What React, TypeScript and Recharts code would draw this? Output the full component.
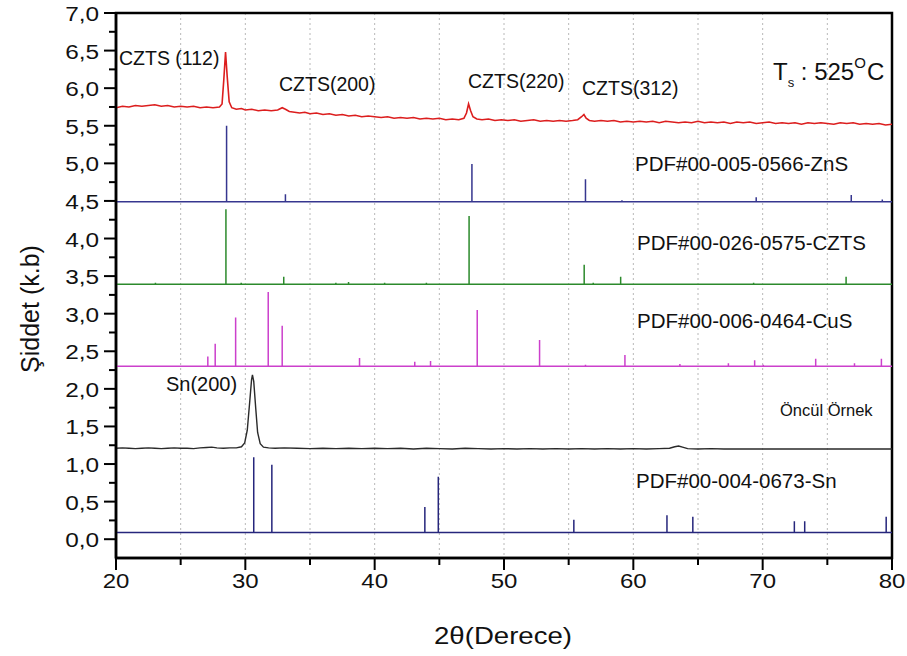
import React from "react";
import {
  CartesianGrid,
  ComposedChart,
  Line,
  ReferenceArea,
  XAxis,
  YAxis
} from "recharts";

type Pt = [number, number];

const xTicks = [20, 25, 30, 35, 40, 45, 50, 55, 60, 65, 70, 75, 80];
const yTicks = [
  0, 0.25, 0.5, 0.75, 1, 1.25, 1.5, 1.75, 2, 2.25, 2.5, 2.75, 3, 3.25, 3.5,
  3.75, 4, 4.25, 4.5, 4.75, 5, 5.25, 5.5, 5.75, 6, 6.25, 6.5, 6.75, 7
];

// film annealed at 525 C (red scan)
const sampleScan: Pt[] = [
  [20, 5.74], [20.5, 5.76], [21, 5.75], [21.5, 5.77], [22, 5.76], [22.5, 5.77],
  [23, 5.78], [23.5, 5.76], [24, 5.77], [24.5, 5.75], [25, 5.76], [25.5, 5.75],
  [26, 5.76], [26.5, 5.74], [27, 5.75], [27.5, 5.74], [28, 5.75], [28.2, 5.79],
  [28.33, 6.1], [28.47, 6.48], [28.6, 6.15], [28.75, 5.82], [28.95, 5.74],
  [29.3, 5.72], [29.7, 5.73], [30, 5.71], [30.5, 5.72], [31, 5.7], [31.5, 5.71],
  [32, 5.7], [32.5, 5.71], [32.85, 5.74], [33.1, 5.72], [33.4, 5.69], [33.8, 5.68],
  [34.2, 5.67], [34.6, 5.68], [35, 5.66], [35.5, 5.67], [36, 5.65], [36.5, 5.66],
  [37, 5.64], [37.5, 5.65], [38, 5.63], [38.5, 5.64], [39, 5.62], [39.5, 5.63],
  [40, 5.62], [40.5, 5.61], [41, 5.62], [41.5, 5.6], [42, 5.61], [42.5, 5.6],
  [43, 5.61], [43.5, 5.59], [44, 5.6], [44.5, 5.59], [45, 5.6], [45.5, 5.58],
  [46, 5.59], [46.5, 5.58], [46.9, 5.6], [47.1, 5.67], [47.26, 5.79], [47.42, 5.7],
  [47.6, 5.62], [47.9, 5.59], [48.3, 5.58], [48.8, 5.59], [49.3, 5.57], [49.8, 5.58],
  [50.3, 5.57], [50.8, 5.58], [51.3, 5.56], [51.8, 5.57], [52.3, 5.58], [52.8, 5.56],
  [53.3, 5.57], [53.8, 5.56], [54.3, 5.57], [54.8, 5.56], [55.3, 5.57], [55.7, 5.58],
  [56.0, 5.62], [56.18, 5.65], [56.35, 5.6], [56.6, 5.57], [57, 5.56], [57.5, 5.57],
  [58, 5.56], [58.5, 5.57], [59, 5.55], [59.5, 5.56], [60, 5.55], [60.5, 5.56],
  [61, 5.55], [61.5, 5.56], [62, 5.54], [62.5, 5.56], [63, 5.55], [63.5, 5.54],
  [64, 5.55], [64.5, 5.54], [65, 5.56], [65.5, 5.54], [66, 5.55], [66.5, 5.54],
  [67, 5.55], [67.5, 5.53], [68, 5.55], [68.5, 5.54], [69, 5.55], [69.5, 5.53],
  [70, 5.54], [70.5, 5.55], [71, 5.53], [71.5, 5.54], [72, 5.53], [72.5, 5.54],
  [73, 5.52], [73.5, 5.54], [74, 5.53], [74.5, 5.54], [75, 5.53], [75.5, 5.52],
  [76, 5.54], [76.5, 5.53], [77, 5.54], [77.5, 5.52], [78, 5.53], [78.5, 5.52],
  [79, 5.53], [79.5, 5.51], [80, 5.52]
];

// precursor (black scan)
const precursorScan: Pt[] = [
  [20, 1.21], [20.5, 1.215], [21, 1.21], [21.5, 1.205], [22, 1.21], [22.5, 1.215],
  [23, 1.21], [23.5, 1.205], [24, 1.21], [24.5, 1.215], [25, 1.21], [25.5, 1.21],
  [26, 1.205], [26.5, 1.215], [27, 1.22], [27.4, 1.225], [27.8, 1.215], [28.3, 1.21],
  [28.8, 1.215], [29.3, 1.215], [29.7, 1.23], [29.95, 1.28], [30.15, 1.45],
  [30.35, 1.85], [30.48, 2.12], [30.55, 2.185], [30.65, 2.1], [30.8, 1.75],
  [30.95, 1.42], [31.15, 1.27], [31.4, 1.225], [31.8, 1.215], [32.3, 1.21],
  [33, 1.215], [34, 1.21], [35, 1.205], [36, 1.21], [37, 1.205], [38, 1.21],
  [39, 1.205], [40, 1.21], [41, 1.205], [42, 1.21], [43, 1.2], [44, 1.21],
  [45, 1.205], [46, 1.2], [47, 1.21], [48, 1.205], [49, 1.2], [50, 1.205],
  [51, 1.2], [52, 1.205], [53, 1.2], [54, 1.205], [55, 1.2], [56, 1.205],
  [57, 1.2], [58, 1.205], [59, 1.2], [60, 1.205], [61, 1.2], [62, 1.205],
  [62.8, 1.21], [63.2, 1.23], [63.5, 1.24], [63.8, 1.225], [64.2, 1.205],
  [65, 1.2], [66, 1.205], [67, 1.2], [68, 1.2], [70, 1.2], [72, 1.2], [74, 1.2],
  [76, 1.2], [78, 1.2], [80, 1.2]
];

// reference patterns: [2theta, top of stick]
const znsBase = 4.49;
const znsPeaks: Pt[] = [
  [28.55, 5.5], [33.1, 4.59], [47.52, 4.99], [56.3, 4.79], [59.12, 4.51],
  [69.5, 4.55], [76.85, 4.58], [79.25, 4.52]
];

const cztsBase = 3.39;
const cztsPeaks: Pt[] = [
  [23.05, 3.41], [28.5, 4.39], [29.68, 3.41], [32.97, 3.49], [37.0, 3.41],
  [37.98, 3.42], [40.77, 3.41], [44.0, 3.41], [47.3, 4.3], [56.2, 3.65],
  [56.9, 3.41], [59.02, 3.49], [69.3, 3.41], [76.45, 3.49]
];

const cusBase = 2.3;
const cusPeaks: Pt[] = [
  [27.1, 2.43], [27.67, 2.6], [29.25, 2.95], [31.77, 3.29], [32.85, 2.84],
  [38.83, 2.41], [43.1, 2.36], [44.32, 2.37], [47.93, 3.05], [52.75, 2.65],
  [56.3, 2.32], [59.35, 2.45], [63.6, 2.33], [67.35, 2.34], [69.38, 2.38],
  [70.05, 2.32], [74.1, 2.4], [77.1, 2.34], [79.18, 2.4]
];

const snBase = 0.09;
const snPeaks: Pt[] = [
  [30.65, 1.09], [32.05, 0.99], [43.88, 0.43], [44.92, 0.83], [55.4, 0.26],
  [62.6, 0.32], [64.6, 0.3], [72.45, 0.24], [73.25, 0.24], [79.55, 0.3]
];

const toRows = (pts: Pt[]) => pts.map(([x, y]) => ({ x, y }));

const stickRows = (base: number, peaks: Pt[]) => {
  const rows = [{ x: 20, y: base }];
  peaks.forEach(([x, top]) => {
    rows.push({ x, y: base }, { x, y: top }, { x, y: base });
  });
  rows.push({ x: 80, y: base });
  return rows;
};

const FONT = "'Liberation Sans', Arial, sans-serif";

const XTick = (props: any) => {
  const { x, y, payload } = props;
  const major = payload.value % 10 === 0;
  return (
    <g>
      <line x1={x} x2={x} y1={y} y2={y + (major ? 12 : 7)} stroke="#000" strokeWidth={2} />
      {major && (
        <text
          transform={`translate(${x},${y + 30}) scale(1.2,1)`}
          textAnchor="middle"
          fontSize={20}
          fontFamily={FONT}
          fill="#111"
        >
          {payload.value}
        </text>
      )}
    </g>
  );
};

const YTick = (props: any) => {
  const { x, y, payload } = props;
  const v = payload.value as number;
  const major = Math.abs(v * 2 - Math.round(v * 2)) < 1e-6;
  return (
    <g>
      <line x1={x} x2={x - (major ? 12 : 7)} y1={y} y2={y} stroke="#000" strokeWidth={2} />
      {major && (
        <text
          transform={`translate(${x - 17},${y + 8}) scale(1.25,1)`}
          textAnchor="end"
          fontSize={19.5}
          fontFamily={FONT}
          fill="#111"
        >
          {v.toFixed(1).replace(".", ",")}
        </text>
      )}
    </g>
  );
};

export default function App() {
  return (
    <div style={{ position: "absolute", left: 0, top: 0, width: 907, height: 656, background: "#fff" }}>
      <ComposedChart
        width={907}
        height={656}
        margin={{ top: 13, right: 15, bottom: 38, left: 46 }}
      >
        <CartesianGrid horizontal={false} stroke="#b8b8b8" strokeDasharray="2 3" />
        <XAxis
          type="number"
          dataKey="x"
          domain={[20, 80]}
          ticks={xTicks}
          allowDataOverflow
          height={60}
          tickSize={0}
          tickMargin={0}
          tickLine={false}
          axisLine={{ stroke: "#000", strokeWidth: 2.5 }}
          tick={<XTick />}
        />
        <YAxis
          type="number"
          domain={[-0.25, 7]}
          ticks={yTicks}
          allowDataOverflow
          width={70}
          tickSize={0}
          tickMargin={0}
          tickLine={false}
          axisLine={{ stroke: "#000", strokeWidth: 2.5 }}
          tick={<YTick />}
          interval={0}
        />
        <Line data={stickRows(snBase, snPeaks)} dataKey="y" stroke="#26267c" strokeWidth={1.5} strokeLinejoin="bevel" dot={false} isAnimationActive={false} />
        <Line data={toRows(precursorScan)} dataKey="y" stroke="#2a2a2a" strokeWidth={1.4} dot={false} isAnimationActive={false} />
        <Line data={stickRows(cusBase, cusPeaks)} dataKey="y" stroke="#cc40cc" strokeWidth={1.5} strokeLinejoin="bevel" dot={false} isAnimationActive={false} />
        <Line data={stickRows(cztsBase, cztsPeaks)} dataKey="y" stroke="#2c8a2c" strokeWidth={1.5} strokeLinejoin="bevel" dot={false} isAnimationActive={false} />
        <Line data={stickRows(znsBase, znsPeaks)} dataKey="y" stroke="#36368f" strokeWidth={1.5} strokeLinejoin="bevel" dot={false} isAnimationActive={false} />
        <Line data={toRows(sampleScan)} dataKey="y" stroke="#dc1e1e" strokeWidth={1.6} dot={false} isAnimationActive={false} />
        <ReferenceArea x1={20} x2={80} y1={-0.25} y2={7} fill="none" fillOpacity={0} stroke="#000" strokeWidth={2.5} />
      </ComposedChart>
      <svg
        width={907}
        height={656}
        style={{ position: "absolute", left: 0, top: 0, pointerEvents: "none" }}
        fontFamily={FONT}
        fill="#111"
      >
        <text x={119} y={65} fontSize={19.5}>CZTS (112)</text>
        <text x={279} y={91} fontSize={19.5}>CZTS(200)</text>
        <text x={468} y={88} fontSize={19.5}>CZTS(220)</text>
        <text x={582} y={95} fontSize={19.5}>CZTS(312)</text>
        <text x={773} y={80} fontSize={24}>
          T
          <tspan fontSize={13} dy={7}>s</tspan>
          <tspan dy={-7}> : 525</tspan>
          <tspan fontSize={15} dy={-12}>O</tspan>
          <tspan dy={12} dx={1}>C</tspan>
        </text>
        <text x={635} y={171} fontSize={20.5}>PDF#00-005-0566-ZnS</text>
        <text x={637} y={250} fontSize={20.5}>PDF#00-026-0575-CZTS</text>
        <text x={637} y={328} fontSize={20.5}>PDF#00-006-0464-CuS</text>
        <text x={166} y={391} fontSize={20}>Sn(200)</text>
        <text x={780} y={416} fontSize={16.5}>Öncül Örnek</text>
        <text x={636} y={488} fontSize={20.5}>PDF#00-004-0673-Sn</text>
        <text transform="translate(503,644) scale(1.2,1)" textAnchor="middle" fontSize={23}>
          2θ(Derece)
        </text>
        <text transform="translate(31,309) rotate(-90)" y={8} textAnchor="middle" fontSize={25}>
          Şiddet (k.b)
        </text>
      </svg>
    </div>
  );
}
